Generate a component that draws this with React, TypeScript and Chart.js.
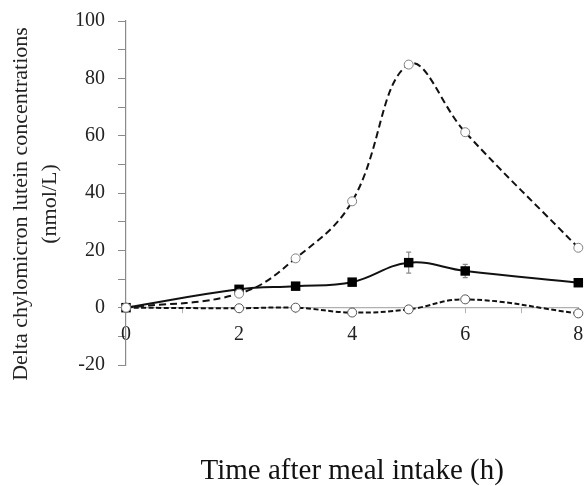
import React, { useEffect, useRef } from "react";
import { Chart, registerables } from "chart.js";

Chart.register(...registerables);

// ---- data ----
const hours = [0, 2, 3, 4, 5, 6, 8];
const seriesHigh = [0, 4.9, 17.2, 37.1, 84.8, 61.2, 20.9];
const seriesMean = [0, 6.4, 7.5, 8.9, 15.7, 12.8, 8.7];
const seriesMeanErr = [0, 0, 0, 0, 3.65, 2.3, 0];
const seriesLow = [0, -0.2, 0, -1.7, -0.6, 2.9, -2.0];
const yLabelValues = [-20, 0, 20, 40, 60, 80, 100];
const xLabelValues = [0, 2, 4, 6, 8];
const xTitle = "Time after meal intake (h)";
const yTitleLines = ["Delta chylomicron lutein concentrations", "(nmol/L)"];

const FONT = "'Liberation Serif', 'Times New Roman', serif";

const toPoints = (ys: number[]) => hours.map((x, i) => ({ x, y: ys[i] }));

const errorBarPlugin = {
  id: "errorBars",
  beforeDatasetsDraw(chart: any) {
    const ctx = chart.ctx;
    const xs = chart.scales.x;
    const ys = chart.scales.y;
    ctx.save();
    ctx.strokeStyle = "#8a8a8a";
    ctx.lineWidth = 1.2;
    hours.forEach((h, i) => {
      const e = seriesMeanErr[i];
      if (!e) return;
      const px = xs.getPixelForValue(h);
      const top = ys.getPixelForValue(seriesMean[i] + e);
      const bot = ys.getPixelForValue(seriesMean[i] - e);
      ctx.beginPath();
      ctx.moveTo(px, top);
      ctx.lineTo(px, bot);
      ctx.moveTo(px - 2.5, top);
      ctx.lineTo(px + 2.5, top);
      ctx.moveTo(px - 2.5, bot);
      ctx.lineTo(px + 2.5, bot);
      ctx.stroke();
    });
    ctx.restore();
  },
};

const yTitlePlugin = {
  id: "yTitle",
  afterDraw(chart: any) {
    const ctx = chart.ctx;
    const area = chart.chartArea;
    const cy = (area.top + area.bottom) / 2 + 11;
    ctx.save();
    ctx.fillStyle = "#222";
    ctx.font = `22px ${FONT}`;
    ctx.textAlign = "center";
    ctx.textBaseline = "middle";
    const xs = [21, 50];
    yTitleLines.forEach((line, i) => {
      ctx.save();
      ctx.translate(xs[i], cy);
      ctx.rotate(-Math.PI / 2);
      ctx.fillText(line, 0, 0);
      ctx.restore();
    });
    ctx.restore();
  },
};

export default function App() {
  const ref = useRef<HTMLCanvasElement | null>(null);

  useEffect(() => {
    document.body.style.margin = "0";
    if (!ref.current) return;
    const chart = new Chart(ref.current, {
      type: "line",
      data: {
        datasets: [
          {
            label: "high",
            data: toPoints(seriesHigh),
            borderColor: "#111",
            borderWidth: 2,
            borderDash: [7, 4],
            tension: 0.4,
            pointStyle: "circle",
            pointRadius: 4.5,
            pointBorderWidth: 1,
            pointBorderColor: "#808080",
            pointBackgroundColor: "#fff",
            clip: false,
          } as any,
          {
            label: "low",
            data: toPoints(seriesLow),
            borderColor: "#111",
            borderWidth: 2,
            borderDash: [5, 2.5],
            tension: 0.4,
            pointStyle: "circle",
            pointRadius: 4.5,
            pointBorderWidth: 1,
            pointBorderColor: "#555",
            pointBackgroundColor: "#fff",
            clip: false,
          } as any,
          {
            label: "mean",
            data: toPoints(seriesMean),
            borderColor: "#111",
            borderWidth: 2,
            tension: 0.4,
            pointStyle: "rect",
            pointRadius: 6.7,
            pointBorderWidth: 0,
            pointBackgroundColor: "#000",
            pointBorderColor: "#000",
            clip: false,
          } as any,
        ],
      },
      options: {
        animation: false,
        responsive: false,
        layout: { padding: { top: 21, right: 6, left: 0, bottom: 0 } },
        plugins: {
          legend: { display: false },
          tooltip: { enabled: false },
          title: {
            display: true,
            text: xTitle,
            position: "bottom",
            fullSize: false,
            color: "#111",
            font: { family: FONT, size: 29, weight: "normal", lineHeight: 1 },
            padding: { top: 92, bottom: 0 },
          },
        },
        scales: {
          x: {
            type: "linear",
            position: { y: 0 } as any,
            min: 0,
            max: 8,
            afterFit(scale: any) {
              scale.paddingLeft = 0;
              scale.paddingRight = 0;
            },
            border: { display: true, color: "#b0b0b0", width: 1.2 },
            grid: {
              drawOnChartArea: false,
              drawTicks: true,
              tickLength: 5,
              tickColor: "#b0b0b0",
              lineWidth: 1,
            },
            ticks: {
              stepSize: 1,
              autoSkip: false,
              maxRotation: 0,
              padding: 10,
              color: "#222",
              font: { family: FONT, size: 20 },
              callback: (v: any) => (xLabelValues.includes(Number(v)) ? String(v) : ""),
            },
          },
          y: {
            type: "linear",
            min: -20,
            max: 100,
            afterFit(scale: any) {
              scale.width = 126;
              scale.paddingTop = 0;
              scale.paddingBottom = 0;
            },
            border: { display: true, color: "#8a8a8a", width: 1.2 },
            grid: {
              drawOnChartArea: false,
              drawTicks: true,
              tickLength: 8,
              tickColor: "#8a8a8a",
              lineWidth: 1,
            },
            ticks: {
              stepSize: 10,
              autoSkip: false,
              padding: 13,
              color: "#222",
              font: { family: FONT, size: 20 },
              callback: (v: any) => (yLabelValues.includes(Number(v)) ? String(v) : ""),
            },
          },
        },
      },
      plugins: [errorBarPlugin, yTitlePlugin],
    });
    return () => chart.destroy();
  }, []);

  return (
    <div style={{ width: 585, height: 486 }}>
      <canvas ref={ref} width={585} height={486} />
    </div>
  );
}
